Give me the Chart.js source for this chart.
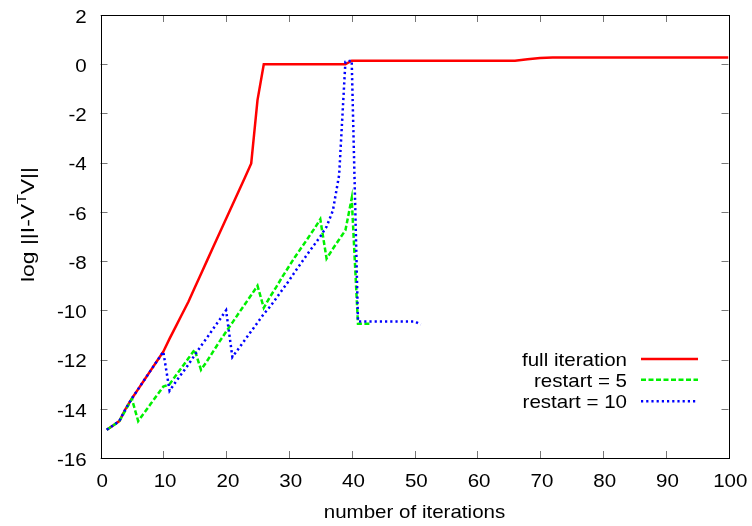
<!DOCTYPE html>
<html>
<head>
<meta charset="utf-8">
<script src="https://cdn.jsdelivr.net/npm/chart.js@4.4.1/dist/chart.umd.min.js"></script>
<style>
  html, body { margin: 0; padding: 0; background: #fff; }
  #wrap { width: 752px; height: 526px; position: relative; }
</style>
</head>
<body>
<div id="wrap"><canvas id="c" width="752" height="526"></canvas></div>
<script>
// ---- data ----
const seriesNames = ["full iteration", "restart = 5", "restart = 10"];

const fullIter = [1,2,3,4,5,6,7,8,9,10,11,12,13,14,15,16,17,18,19,20,21,22,23,24,25,26,39,40,66,68,70,72,100];
const fullVal  = [-14.85,-14.68,-14.5,-14.0,-13.58,-13.2,-12.82,-12.44,-12.06,-11.68,-11.15,-10.65,-10.15,-9.65,-9.08,-8.52,-7.96,-7.4,-6.84,-6.28,-5.72,-5.16,-4.6,-4.03,-1.46,0.0,0.0,0.14,0.14,0.2,0.25,0.27,0.27];

const r5Iter = [1,2,3,4,5,6,7,8,9,10,11,12,13,14,15,16,17,18,19,20,21,22,23,24,25,26,27,28,29,30,31,32,33,34,35,36,37,38,39,40,41,42,43];
const r5Val  = [-14.85,-14.68,-14.5,-14.05,-13.6,-14.5,-14.15,-13.8,-13.45,-13.1,-13.0,-12.65,-12.3,-11.95,-11.6,-12.42,-12.05,-11.65,-11.25,-10.87,-10.5,-10.12,-9.75,-9.38,-9.0,-9.9,-9.45,-9.05,-8.62,-8.22,-7.82,-7.45,-7.08,-6.7,-6.3,-7.9,-7.5,-7.12,-6.75,-5.45,-10.55,-10.55,-10.55];

const r10Iter = [1,2,3,4,5,6,7,8,9,10,11,12,13,14,15,16,17,18,19,20,21,22,23,24,25,26,27,28,29,30,31,32,33,34,35,36,37,38,39,40,41,42,43,44,45,46,47,48,49,50,51];
const r10Val  = [-14.85,-14.68,-14.5,-14.0,-13.58,-13.2,-12.82,-12.44,-12.06,-11.68,-13.27,-12.9,-12.55,-12.2,-11.82,-11.45,-11.1,-10.73,-10.37,-10.0,-11.9,-11.55,-11.2,-10.85,-10.5,-10.15,-9.85,-9.5,-9.15,-8.8,-8.42,-8.06,-7.7,-7.35,-7.0,-6.6,-5.95,-4.5,0.1,0.15,-10.45,-10.45,-10.45,-10.45,-10.45,-10.45,-10.45,-10.45,-10.45,-10.45,-10.58];

const xTicks = [0,10,20,30,40,50,60,70,80,90,100];
const yTicks = [-16,-14,-12,-10,-8,-6,-4,-2,0,2];

const xTitle = "number of iterations";
const yTitleParts = ["log ||I-V", "T", "V||"];

// ---- styles ----
const FONT = "'Liberation Sans', Arial, Helvetica, sans-serif";
const FS = 18.5;          // font size
const SX = 1.11;          // horizontal stretch of the reference lettering
const colors = ["#ff0000", "#00f000", "#0000ff"];
const dashes = [[], [5, 2.5], [2.2, 3]];

function pts(xs, ys) { return xs.map((x, i) => ({ x: x, y: ys[i] })); }

function stretchText(ctx, text, x, y, align, sx) {
  ctx.save();
  ctx.translate(x, y);
  ctx.scale(sx, 1);
  ctx.textAlign = align;
  ctx.fillText(text, 0, 0);
  ctx.restore();
}

const framePlugin = {
  id: 'frame',
  afterDatasetsDraw(chart) {
    const { ctx, chartArea: a, scales } = chart;
    ctx.save();
    ctx.strokeStyle = '#777';
    ctx.lineWidth = 1;
    const L = 7;
    ctx.beginPath();
    xTicks.forEach(v => {
      const px = Math.round(scales.x.getPixelForValue(v)) + 0.5;
      ctx.moveTo(px, a.bottom); ctx.lineTo(px, a.bottom - L);
      ctx.moveTo(px, a.top); ctx.lineTo(px, a.top + L);
    });
    yTicks.forEach(v => {
      const py = Math.round(scales.y.getPixelForValue(v)) + 0.5;
      ctx.moveTo(a.left, py); ctx.lineTo(a.left + L, py);
      ctx.moveTo(a.right, py); ctx.lineTo(a.right - L, py);
    });
    ctx.stroke();
    ctx.strokeStyle = '#000';
    ctx.lineWidth = 1;
    ctx.strokeRect(Math.round(a.left) + 0.5, Math.round(a.top) + 0.5,
                   Math.round(a.right - a.left), Math.round(a.bottom - a.top));
    ctx.restore();
  },
  afterDraw(chart) {
    const { ctx, chartArea: a, scales } = chart;
    ctx.save();
    ctx.fillStyle = '#000';
    ctx.font = FS + "px " + FONT;
    ctx.textBaseline = 'alphabetic';
    // tick labels
    xTicks.forEach(v => {
      stretchText(ctx, String(v), scales.x.getPixelForValue(v) + 1.8, 486.5, 'center', SX);
    });
    yTicks.forEach(v => {
      stretchText(ctx, String(v), 86.7, scales.y.getPixelForValue(v) + 7.8, 'right', SX);
    });
    // x title
    stretchText(ctx, xTitle, (a.left + a.right) / 2, 518, 'center', SX);

    // y title with superscript (rotated)
    ctx.save();
    ctx.translate(33.5, 224.5);
    ctx.rotate(-Math.PI / 2);
    const big = FS + "px " + FONT, small = "13px " + FONT;
    ctx.font = big; const w0 = ctx.measureText(yTitleParts[0]).width;
    const w2 = ctx.measureText(yTitleParts[2]).width;
    ctx.font = small; const w1 = ctx.measureText(yTitleParts[1]).width;
    const total = w0 + w1 + w2;
    const k = 115 / total;        // stretch along text direction to reference length
    ctx.scale(k, 1);
    ctx.textAlign = 'left';
    let x0 = -total / 2;
    ctx.font = big; ctx.fillText(yTitleParts[0], x0, 0);
    ctx.font = small; ctx.fillText(yTitleParts[1], x0 + w0, -8);
    ctx.font = big; ctx.fillText(yTitleParts[2], x0 + w0 + w1, 0);
    ctx.restore();

    // legend
    const rows = [366, 386.7, 408.3];
    seriesNames.forEach((name, i) => {
      ctx.fillStyle = '#000';
      ctx.font = FS + "px " + FONT;
      stretchText(ctx, name, 627, rows[i], 'right', SX);
      ctx.save();
      ctx.strokeStyle = colors[i];
      ctx.lineWidth = 2.5;
      ctx.setLineDash(dashes[i]);
      ctx.beginPath();
      ctx.moveTo(641, rows[i] - 7); ctx.lineTo(698, rows[i] - 7);
      ctx.stroke();
      ctx.restore();
    });
    ctx.restore();
  }
};

const ds = (label, xs, ys, i, order) => ({
  label: label,
  data: pts(xs, ys),
  showLine: true,
  borderColor: colors[i],
  backgroundColor: colors[i],
  borderWidth: 2.5,
  borderDash: dashes[i],
  pointRadius: 0,
  tension: 0,
  fill: false,
  order: order
});

new Chart(document.getElementById('c'), {
  type: 'scatter',
  data: {
    datasets: [
      ds(seriesNames[0], fullIter, fullVal, 0, 3),
      ds(seriesNames[1], r5Iter, r5Val, 1, 2),
      ds(seriesNames[2], r10Iter, r10Val, 2, 1)
    ]
  },
  plugins: [framePlugin],
  options: {
    responsive: false,
    animation: false,
    devicePixelRatio: 1,
    layout: { autoPadding: false, padding: { left: 0, right: 23.5, top: 15, bottom: 0 } },
    plugins: { legend: { display: false }, tooltip: { enabled: false } },
    scales: {
      x: {
        type: 'linear', min: 0, max: 100,
        afterFit: s => { s.height = 68; },
        afterBuildTicks: s => { s.ticks = xTicks.map(v => ({ value: v })); },
        grid: { display: false, drawTicks: false },
        border: { display: false },
        ticks: { display: false }
      },
      y: {
        type: 'linear', min: -16, max: 2,
        afterFit: s => { s.width = 100.5; },
        afterBuildTicks: s => { s.ticks = yTicks.map(v => ({ value: v })); },
        grid: { display: false, drawTicks: false },
        border: { display: false },
        ticks: { display: false }
      }
    }
  }
});
</script>
</body>
</html>
